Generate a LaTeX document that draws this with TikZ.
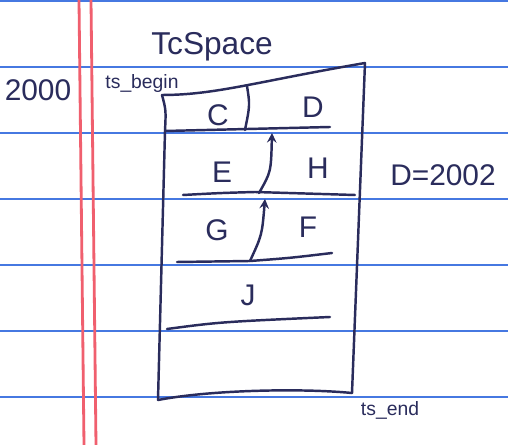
\documentclass[tikz,border=0pt]{standalone}
\usepackage{fontspec}
\setmainfont{Liberation Sans}
\usepackage{xcolor}
\usetikzlibrary{arrows, positioning}

\definecolor{ink}{RGB}{42,44,92}
\definecolor{ruleblue}{RGB}{70,120,225}
\definecolor{marginred}{RGB}{240,95,110}

\begin{document}
\begin{tikzpicture}[
    x=0.02cm, y=-0.02cm,
    ruled/.style={ruleblue, line width=1.3pt},
    margin/.style={marginred, line width=1.6pt},
    pen/.style={ink, line width=1.4pt, line cap=round},
    slot/.style={ink, font=\fontsize{17}{17}\selectfont},
    note/.style={ink, font=\fontsize{11}{11}\selectfont},
    arrow/.style={pen,->,>=stealth}
  ]
    \useasboundingbox (0,0) rectangle (508,445);
    \fill[white] (0,0) rectangle (508,445);

    % Paper
    \foreach \y in {1,67,133,199,265,331,397}
      \draw[ruled] (0,\y) -- (508,\y);
    \draw[margin] (79,0) -- (84,445);
    \draw[margin] (91,0) -- (96,445);

    % Corners of the space
    \coordinate (tl) at (162,95);
    \coordinate (tr) at (365,63);
    \coordinate (br) at (352,393);
    \coordinate (bl) at (158,400);

    % Outline
    \draw[pen] (tl) .. controls (215,95) and (255,82) .. (tr);
    \draw[pen] (tr) -- (br);
    \draw[pen] (bl) .. controls (210,390) and (300,388) .. (br);
    \draw[pen] (tl) .. controls (166,110) .. (165,131) -- (bl);

    % Row dividers
    \coordinate (r1a) at (165,131);
    \coordinate (r1b) at (330,127);
    \coordinate (r2a) at (183,195);
    \coordinate (r2b) at (355,195);
    \coordinate (r3a) at (177,262);
    \coordinate (r3m) at (250,261);
    \coordinate (r3b) at (332,253);
    \coordinate (r4a) at (167,329);
    \coordinate (r4b) at (330,317);
    \draw[pen] (r1a) -- (r1b);
    \draw[pen] (r2a) .. controls (220,193) .. (255,192) -- (r2b);
    \draw[pen] (r3a) -- (r3m) .. controls (290,258) .. (r3b);
    \draw[pen] (r4a) .. controls (220,322) .. (r4b);

    % Column dividers
    \coordinate (v1a) at (247,86);
    \coordinate (v1b) at (245,130);
    \coordinate (v2a) at (259,193);
    \coordinate (v2b) at (272,133);
    \coordinate (v3b) at (265,199);
    \draw[pen] (v1a) .. controls (250,105) .. (v1b);
    \draw[arrow] (v2a) .. controls (271,172) .. (v2b);
    \draw[arrow] (r3m) .. controls (262,235) .. (v3b);

    % Slots
    \node[slot] (c) at (218,115) {C};
    \node[slot] (d) at (313,107) {D};
    \node[slot] (e) at (222,172) {E};
    \node[slot] (h) at (318,168) {H};
    \node[slot] (g) at (217,230) {G};
    \node[slot] (f) at (308,227) {F};
    \node[slot] (j) at (248,295) {J};

    % Labels
    \node[ink, font=\fontsize{18}{18}\selectfont] (title) at (212,47) {TcSpace};
    \node[note] (tsbegin) at (142,84) {ts\_begin};
    \node[note] (tsend) at (390,410) {ts\_end};
    \node[slot] (start) at (38,90) {2000};
    \node[slot] (dval) at (443,175) {D=2002};

  \end{tikzpicture}
\end{document}
